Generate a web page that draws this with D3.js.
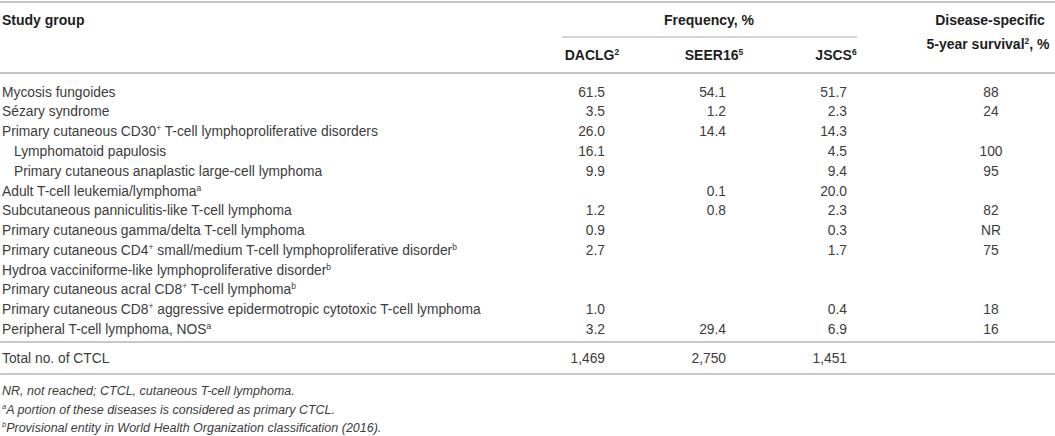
<!DOCTYPE html>
<html>
<head>
<meta charset="utf-8">
<script src="https://cdn.jsdelivr.net/npm/d3@7/dist/d3.min.js"></script>
<style>
  body { margin: 0; background: #fff; }
  svg { display: block; font-family: "Liberation Sans", Arial, sans-serif; }
</style>
</head>
<body>
<svg id="tbl" width="1055" height="436"></svg>
<script>

//// DATA

// Row labels, {x} marks a superscript
var groups = [
    "Mycosis fungoides",
    "Sézary syndrome",
    "Primary cutaneous CD30{+} T-cell lymphoproliferative disorders",
    "Lymphomatoid papulosis",
    "Primary cutaneous anaplastic large-cell lymphoma",
    "Adult T-cell leukemia/lymphoma{a}",
    "Subcutaneous panniculitis-like T-cell lymphoma",
    "Primary cutaneous gamma/delta T-cell lymphoma",
    "Primary cutaneous CD4{+} small/medium T-cell lymphoproliferative disorder{b}",
    "Hydroa vacciniforme-like lymphoproliferative disorder{b}",
    "Primary cutaneous acral CD8{+} T-cell lymphoma{b}",
    "Primary cutaneous CD8{+} aggressive epidermotropic cytotoxic T-cell lymphoma",
    "Peripheral T-cell lymphoma, NOS{a}"
];
// Sub-rows (indented)
var indent = [0, 0, 0, 1, 1, 0, 0, 0, 0, 0, 0, 0, 0];

// Frequency columns
var cohorts = ["DACLG{2}", "SEER16{5}", "JSCS{6}"];
var daclg  = ["61.5", "3.5", "26.0", "16.1", "9.9", "", "1.2", "0.9", "2.7", "", "", "1.0", "3.2"];
var seer16 = ["54.1", "1.2", "14.4", "", "", "0.1", "0.8", "", "", "", "", "", "29.4"];
var jscs   = ["51.7", "2.3", "14.3", "4.5", "9.4", "20.0", "2.3", "0.3", "1.7", "", "", "0.4", "6.9"];
// Disease-specific 5-year survival
var survival = ["88", "24", "", "100", "95", "", "82", "NR", "75", "", "", "18", "16"];

// Totals
var totalLabel = "Total no. of CTCL";
var totals = ["1,469", "2,750", "1,451"];

// Footnotes
var notes = [
    "NR, not reached; CTCL, cutaneous T-cell lymphoma.",
    "{a}A portion of these diseases is considered as primary CTCL.",
    "{b}Provisional entity in World Health Organization classification (2016)."
];


//// MAIN

var svg = d3.select("#tbl");
var W = 1055;
var textCol = "#3c3c3c";
var headCol = "#1e1e1e";
var fsBody = 13.8;
var fsHead = 14;
var fsNote = 12.5;

// Row position scale
var y = d3.scaleBand().domain(d3.range(groups.length)).range([82, 339]);
// Number columns (right edge of numbers) and header centers
var xNum = d3.scalePoint().domain(d3.range(cohorts.length)).range([605, 847]);
var xHead = d3.scalePoint().domain(d3.range(cohorts.length)).range([592, 836]);
var xSurv = 991;

var values = [daclg, seer16, jscs];

///////////////////////////////////
// Writes a string with {sup} parts as tspans
function richText(sel, str, supSize){
///////////////////////////////////
    var parts = str.split(/(\{[^}]*\})/).filter(function(p){ return p !== ""; });
    var raised = false;
    parts.forEach(function(p){
        var t = sel.append("tspan");
        if (p.charAt(0) == "{"){
            t.text(p.slice(1, -1)).attr("font-size", supSize);
            if (!raised) t.attr("dy", -5);
            raised = true;
        } else {
            t.text(p);
            if (raised) t.attr("dy", 5);
            raised = false;
        }
    });
}

// Baseline for a given vertical center
function base(cy, fs){ return cy + fs * 0.35; }

// Rules
function hline(x1, x2, yy, w, c){
    svg.append("line").attr("x1", x1).attr("x2", x2).attr("y1", yy).attr("y2", yy)
        .attr("stroke", c).attr("stroke-width", w);
}
hline(0, W, 2, 2, "#c4c4c4");
hline(562, 857, 37, 1, "#a8a8a8");
hline(0, W, 73, 2, "#c4c4c4");
hline(0, W, 342, 1.5, "#b4b4b4");
hline(0, W, 374, 1.5, "#b4b4b4");

// Header
svg.append("text").attr("x", 2).attr("y", base(20, fsHead))
    .attr("font-size", fsHead).attr("font-weight", "bold").attr("fill", headCol)
    .text("Study group");
svg.append("text").attr("x", 709).attr("y", base(20, fsHead))
    .attr("text-anchor", "middle").attr("font-size", fsHead).attr("font-weight", "bold").attr("fill", headCol)
    .text("Frequency, %");
svg.append("text").attr("x", xSurv - 1).attr("y", base(20, fsHead))
    .attr("text-anchor", "middle").attr("font-size", fsHead).attr("font-weight", "bold").attr("fill", headCol)
    .text("Disease-specific");
svg.append("text").attr("x", xSurv - 3).attr("y", base(44, fsHead))
    .attr("text-anchor", "middle").attr("font-size", fsHead).attr("font-weight", "bold").attr("fill", headCol)
    .call(richText, "5-year survival{2}, %", 8.5);

svg.selectAll("text.cohort")
    .data(cohorts)
    .enter()
    .append("text")
    .attr("class", "cohort")
    .attr("x", function(d, i){ return xHead(i); })
    .attr("y", base(55, fsHead))
    .attr("text-anchor", "middle").attr("font-size", fsHead).attr("font-weight", "bold").attr("fill", headCol)
    .each(function(d){ richText(d3.select(this), d, 8.5); });

// Body rows
var rows = svg.selectAll("g.row")
    .data(groups)
    .enter()
    .append("g")
    .attr("class", "row")
    .attr("transform", function(d, i){ return "translate(0," + (y(i) + y.bandwidth() / 2) + ")"; });

rows.append("text")
    .attr("x", function(d, i){ return indent[i] ? 14 : 2; })
    .attr("y", base(0, fsBody)).attr("font-size", fsBody).attr("fill", textCol)
    .each(function(d){ richText(d3.select(this), d, 8.5); });

values.forEach(function(col, c){
    rows.append("text")
        .attr("x", xNum(c))
        .attr("y", base(0, fsBody)).attr("text-anchor", "end").attr("font-size", fsBody).attr("fill", textCol)
        .text(function(d, i){ return col[i]; });
});

rows.append("text")
    .attr("x", xSurv)
    .attr("y", base(0, fsBody)).attr("text-anchor", "middle").attr("font-size", fsBody).attr("fill", textCol)
    .text(function(d, i){ return survival[i]; });

// Totals row
var tot = svg.append("g").attr("transform", "translate(0,358)");
tot.append("text").attr("x", 2).attr("y", base(0, fsBody)).attr("font-size", fsBody).attr("fill", textCol)
    .text(totalLabel);
tot.selectAll("text.total")
    .data(totals)
    .enter()
    .append("text")
    .attr("class", "total")
    .attr("x", function(d, i){ return xNum(i); })
    .attr("y", base(0, fsBody)).attr("text-anchor", "end").attr("font-size", fsBody).attr("fill", textCol)
    .text(function(d){ return d; });

// Footnotes
svg.selectAll("text.note")
    .data(notes)
    .enter()
    .append("text")
    .attr("class", "note")
    .attr("x", 2)
    .attr("y", function(d, i){ return base(391 + i * 18.5, fsNote); })
    .attr("font-size", fsNote).attr("font-style", "italic").attr("fill", textCol)
    .each(function(d){ richText(d3.select(this), d, 7.5); });

</script>
</body>
</html>
